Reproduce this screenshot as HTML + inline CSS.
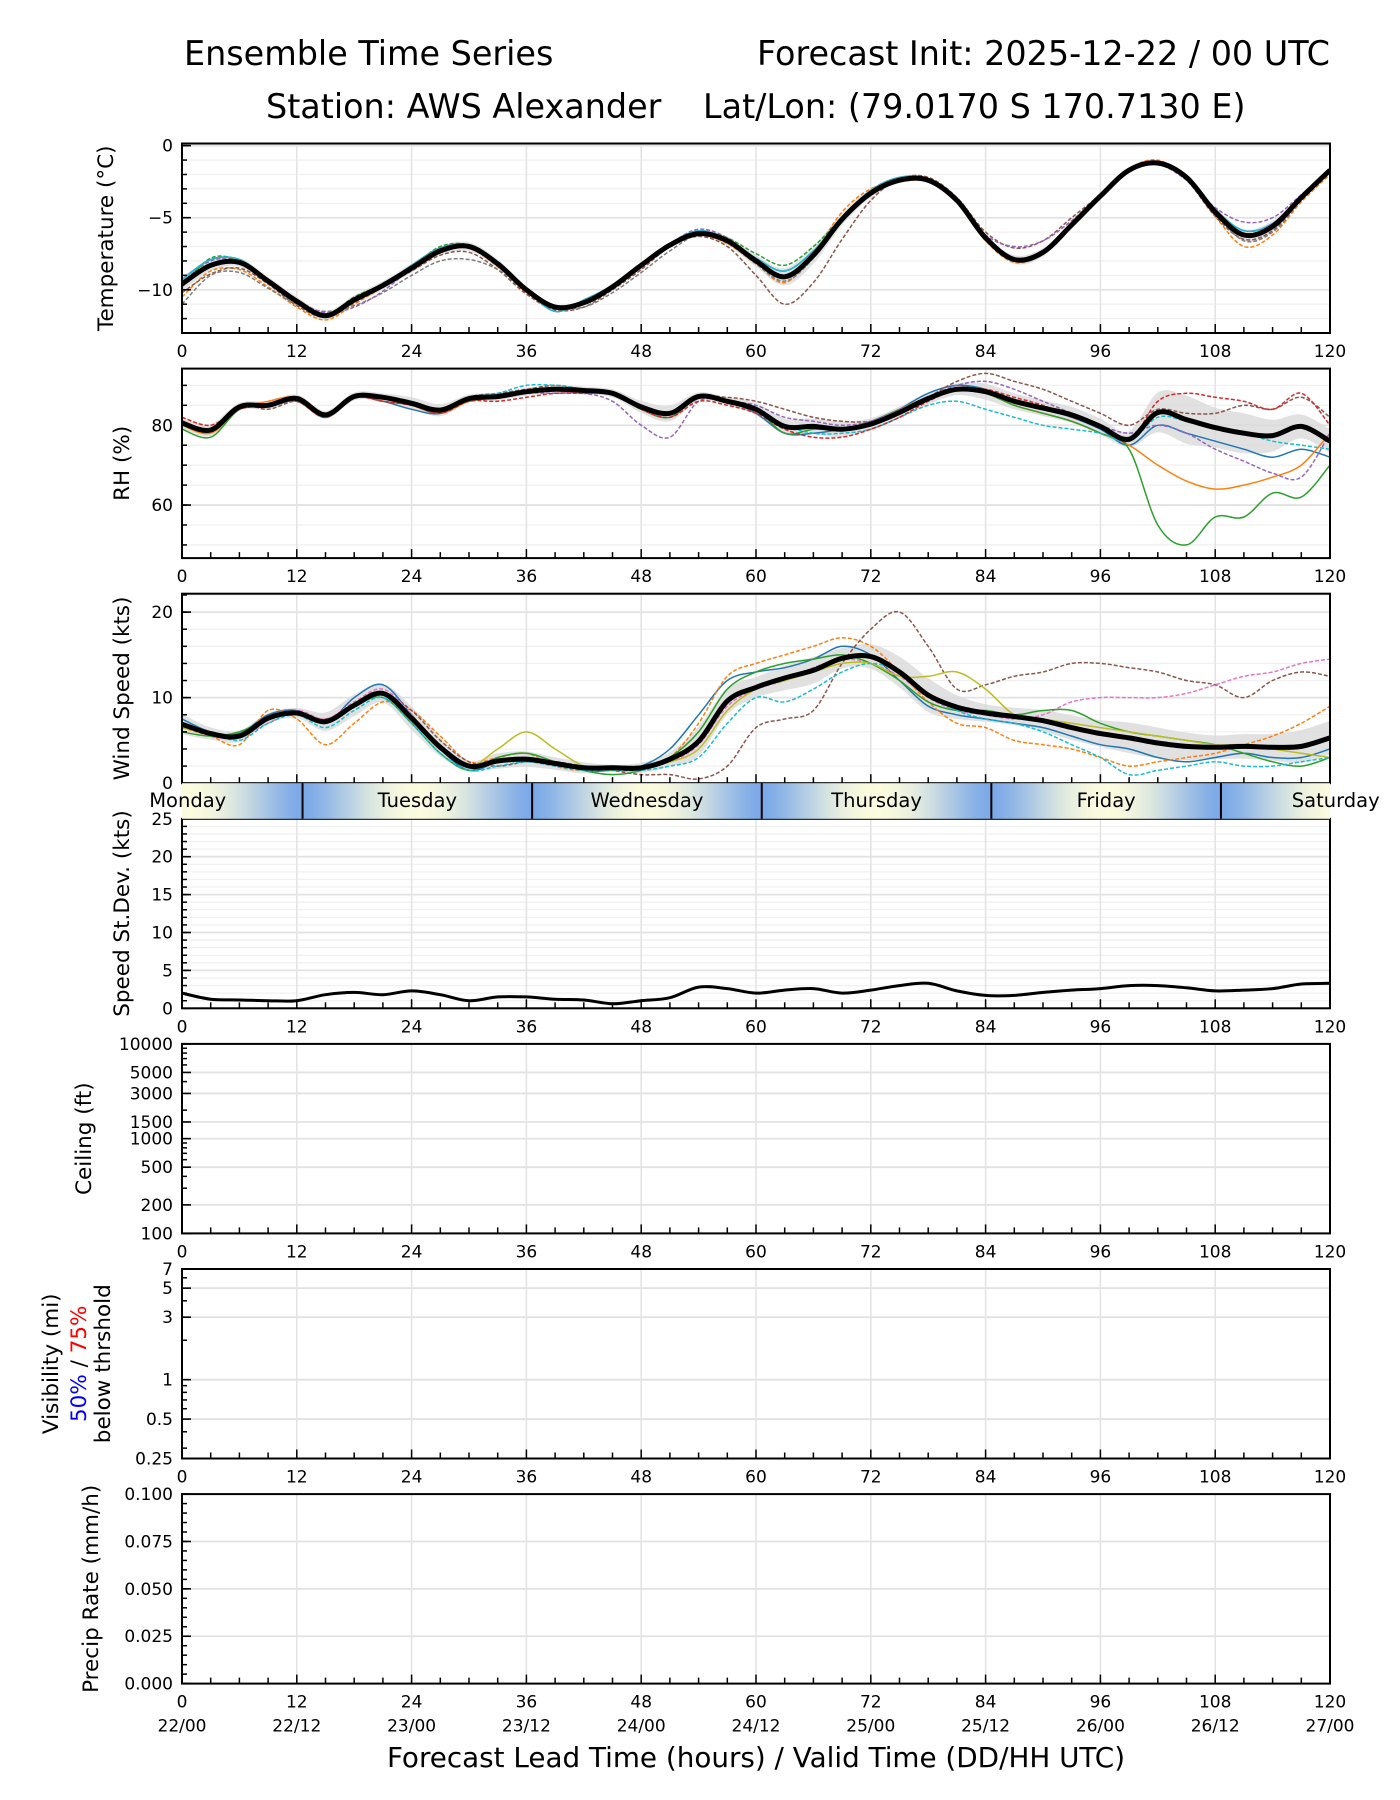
<!DOCTYPE html>
<html><head><meta charset="utf-8">
<style>
html,body{margin:0;padding:0;background:#fff;}
svg{display:block;font-family:"DejaVu Sans","Liberation Sans",sans-serif;}
</style></head>
<body>
<svg id="chart" width="1400" height="1800" viewBox="0 0 1400 1800" xmlns="http://www.w3.org/2000/svg">
<text x="184" y="65" font-size="33.4">Ensemble Time Series</text>
<text x="1330" y="65" font-size="33.4" text-anchor="end">Forecast Init: 2025-12-22 / 00 UTC</text>
<text x="266" y="118" font-size="33.4">Station: AWS Alexander</text>
<text x="703" y="118" font-size="33.4">Lat/Lon: (79.0170 S 170.7130 E)</text>
<g id="plots"></g>
<text x="756" y="1767" font-size="27.8" text-anchor="middle">Forecast Lead Time (hours) / Valid Time (DD/HH UTC)</text>
</svg>
<script>
// ---- data (3-hourly, lead hours 0..120) ----
const hours = [0,3,6,9,12,15,18,21,24,27,30,33,36,39,42,45,48,51,54,57,60,63,66,69,72,75,78,81,84,87,90,93,96,99,102,105,108,111,114,117,120];
const xTicks = [0,12,24,36,48,60,72,84,96,108,120];
const validLabels = ["22/00","22/12","23/00","23/12","24/00","24/12","25/00","25/12","26/00","26/12","27/00"];
const dayNames = ["Monday","Tuesday","Wednesday","Thursday","Friday","Saturday"];

const tempMean = [-9.6,-8.3,-8.1,-9.4,-10.8,-11.8,-10.7,-9.7,-8.5,-7.3,-7.0,-8.2,-10.0,-11.2,-10.9,-9.8,-8.3,-6.9,-6.1,-6.6,-8.0,-9.1,-7.6,-5.1,-3.3,-2.4,-2.4,-3.8,-6.4,-7.9,-7.4,-5.5,-3.5,-1.7,-1.2,-2.2,-4.6,-6.2,-5.6,-3.6,-1.7];
const tempM1 = [-9.3,-7.9,-7.9,-9.3,-10.9,-11.7,-10.6,-9.7,-8.3,-7.1,-6.9,-8.1,-10.0,-11.5,-10.7,-9.7,-8.2,-6.8,-5.9,-6.5,-7.8,-8.7,-7.3,-5.0,-3.1,-2.2,-2.3,-3.8,-6.3,-8.0,-7.5,-5.5,-3.4,-1.6,-1.1,-2.1,-4.4,-5.9,-5.4,-3.5,-1.6];
const tempM2 = [-10.5,-8.7,-8.6,-9.8,-11.2,-12.1,-11.0,-9.8,-8.6,-7.2,-7.1,-8.4,-10.2,-11.3,-11.0,-9.9,-8.4,-7.0,-6.2,-6.8,-8.2,-9.5,-7.5,-4.6,-3.0,-2.5,-2.5,-3.9,-6.6,-8.1,-7.5,-5.4,-3.5,-1.6,-1.0,-2.3,-4.9,-7.0,-6.2,-3.9,-2.0];
const tempM3 = [-10.2,-8.9,-8.5,-9.6,-11.1,-11.9,-10.9,-9.8,-8.7,-7.6,-7.4,-8.6,-10.3,-11.4,-11.2,-10.0,-8.6,-7.0,-6.3,-7.0,-9.0,-11.0,-9.5,-6.5,-3.8,-2.3,-2.2,-3.6,-6.0,-7.1,-6.6,-5.0,-3.4,-1.7,-1.3,-2.4,-4.9,-6.5,-5.9,-3.8,-1.8];
const tempM4 = [-11.0,-9.0,-8.8,-9.9,-11.0,-11.5,-11.1,-10.2,-9.0,-8.0,-7.9,-8.6,-10.1,-11.2,-11.2,-10.2,-8.8,-7.3,-6.2,-6.7,-8.2,-9.4,-7.8,-5.2,-3.1,-2.2,-2.3,-3.8,-6.4,-7.9,-7.4,-5.4,-3.5,-1.6,-1.2,-2.2,-4.6,-6.6,-6.0,-3.8,-1.8];
const tempM5 = [-9.5,-8.0,-8.0,-9.3,-10.7,-11.6,-11.2,-10.1,-8.5,-7.1,-6.9,-8.2,-10.0,-11.3,-10.8,-9.7,-8.2,-6.8,-5.8,-6.4,-8.0,-9.0,-7.6,-5.0,-3.2,-2.3,-2.4,-3.9,-6.2,-7.0,-6.6,-5.2,-3.4,-1.6,-1.3,-2.4,-4.3,-5.3,-5.0,-3.4,-1.7];
const tempM6 = [-9.8,-7.8,-8.0,-9.4,-10.8,-11.8,-10.5,-9.6,-8.4,-7.0,-6.9,-8.1,-10.0,-11.2,-10.9,-9.8,-8.3,-6.9,-6.0,-6.4,-7.5,-8.3,-7.0,-5.0,-3.2,-2.4,-2.4,-3.8,-6.4,-7.9,-7.4,-5.5,-3.4,-1.7,-1.1,-2.1,-4.5,-6.1,-5.5,-3.5,-1.6];
const tempSpread = [0.5,0.4,0.3,0.3,0.3,0.3,0.3,0.3,0.3,0.3,0.3,0.3,0.2,0.2,0.2,0.2,0.2,0.2,0.2,0.3,0.4,0.6,0.6,0.4,0.3,0.2,0.2,0.2,0.2,0.3,0.3,0.2,0.2,0.2,0.2,0.2,0.3,0.4,0.4,0.2,0.2];

const rhMean = [80.6,78.8,84.6,85,86.7,82.6,87.2,87,85.5,83.8,86.7,87.2,88.4,89,88.7,88,84.6,83,87.2,86,84,79.7,79.7,79,80.3,83.2,86.7,89,88.4,86,84.3,82.6,79.7,76.5,83.2,81.4,79.4,78,77.4,79.7,76];
const rhM1 = [81,79,85,85,86,82,87,86,84,83,87,87,88,89,89,88,84,82,87,86,83,78,78,79,80,84,88,90,89,86,84,82,79,75,80,78,76,74,72,74,72];
const rhM2 = [80,78,84,86,87,83,87,87,85,83,86,87,88,89,88,88,85,83,87,86,84,80,80,79,80,84,87,89,88,85,83,81,78,75,70,66,64,65,67,70,78];
const rhM3 = [79,77,84,85,87,82,87,87,85,84,86,87,88,89,89,88,84,82,87,86,84,78,79,79,81,84,87,89,88,85,83,81,78,74,55,50,57,57,63,62,70];
const rhM4 = [81,79,85,84,86,83,87,86,85,83,87,88,89,90,89,88,85,83,87,87,86,84,82,81,81,83,87,91,93,91,89,86,83,80,84,83,83,85,84,87,82];
const rhM5 = [80,79,84,85,86,83,87,87,85,84,87,87,88,88,88,86,80,77,86,86,85,82,81,80,81,84,87,90,91,89,86,83,80,78,80,78,74,71,68,67,78];
const rhM6 = [81,79,85,85,86,82,87,87,86,84,87,88,90,90,89,88,85,83,87,86,84,80,78,78,79,82,85,86,84,82,80,79,78,76,82,81,79,78,76,75,74];
const rhM7 = [82,80,84,85,86,82,87,86,85,83,86,86,87,88,88,88,84,82,86,85,83,79,77,77,79,82,86,89,89,87,85,82,80,76,86,88,87,86,84,88,80];
const rhSpread = [1.5,1.5,1,1,1,1,1,1,1.5,1.5,1,1,1,1,1,1,1.5,2,1,1,1.5,2,2,2,1.5,1.5,1.5,1.5,2,2,2,2,2,2,5,6,5,5,4,3,3];

const windMean = [6.9,5.8,5.5,7.6,8.2,7.2,9.1,10.5,7.6,4.2,2.0,2.6,2.8,2.3,1.8,1.8,1.8,2.8,4.9,9.6,11.2,12.3,13.2,14.6,14.8,13.0,10.3,8.9,8.2,7.8,7.3,6.5,5.8,5.3,4.7,4.3,4.2,4.3,4.2,4.3,5.3];
const windM1 = [7.5,6.0,5.8,8.0,8.5,7.0,10.0,11.5,8.0,4.0,1.5,2.5,3.0,2.5,1.5,1.5,2.0,4.0,8.0,12.0,13.0,13.5,14.5,16.0,15.0,12.0,9.0,8.0,7.5,7.0,6.5,5.5,4.5,4.0,3.0,2.5,3.0,3.5,3.0,3.0,4.0];
const windM2 = [6.5,5.5,4.5,8.5,7.5,4.5,7.0,9.5,8.5,5.5,2.5,3.0,3.5,2.0,1.5,2.0,2.0,3.0,7.0,12.5,14.0,15.0,16.0,17.0,16.0,13.0,9.5,7.0,6.5,5.0,4.5,4.0,3.0,2.0,2.5,3.0,3.5,4.5,5.5,7.0,9.0];
const windM3 = [7.0,6.0,5.5,7.5,8.0,7.5,9.0,10.5,8.5,5.0,2.5,2.0,2.5,2.5,2.0,1.5,1.0,1.0,0.5,2.0,6.5,7.5,8.5,14.0,18.0,20.0,16.0,11.0,11.5,12.5,13.0,14.0,14.0,13.5,13.0,12.0,11.5,10.0,12.0,13.0,12.5];
const windM4 = [7.0,5.5,5.5,7.0,8.5,7.5,9.5,11.0,8.0,4.0,2.0,2.5,3.0,2.5,2.0,2.0,2.0,2.5,4.5,9.0,11.0,12.0,13.5,14.5,14.0,12.5,10.0,8.5,8.0,7.5,8.0,9.5,10.0,10.0,10.0,10.5,11.5,12.5,13.0,14.0,14.5];
const windM5 = [6.0,5.5,6.0,7.5,8.0,7.0,9.0,10.0,7.0,3.5,1.5,3.0,3.5,2.5,1.5,1.0,1.5,3.0,6.0,11.0,13.0,14.0,14.5,15.0,14.0,12.0,9.5,8.5,8.5,8.0,8.5,8.5,7.0,6.0,5.5,5.0,4.5,3.5,2.5,2.0,3.0];
const windM6 = [6.5,5.8,5.5,7.5,8.0,7.0,9.0,10.5,7.5,4.5,2.0,4.0,6.0,4.0,2.0,1.5,2.0,2.5,4.0,8.5,11.0,12.0,13.0,14.0,14.0,12.5,12.5,13.0,11.0,8.0,7.5,7.0,6.5,6.0,5.5,5.0,4.5,4.5,4.0,3.5,3.0];
const windM7 = [7.0,6.0,5.0,7.0,8.0,6.5,8.5,10.0,7.0,3.5,1.5,2.0,2.5,2.0,1.5,1.5,1.5,2.0,3.0,7.0,10.0,9.5,11.0,13.0,14.0,13.0,10.5,8.5,7.5,7.0,6.0,4.5,3.0,1.0,1.5,2.0,2.5,2.0,2.0,2.5,3.0];

const windStd = [2.0,1.2,1.1,1.0,1.0,1.8,2.1,1.8,2.3,1.8,1.0,1.5,1.5,1.2,1.1,0.6,1.0,1.4,2.8,2.6,2.0,2.4,2.6,2.0,2.4,3.0,3.3,2.3,1.7,1.7,2.1,2.4,2.6,3.0,3.0,2.7,2.3,2.4,2.6,3.2,3.3];

const tempYTicks = [0,-5,-10];
const rhYTicks = [60,80];
const windYTicks = [0,10,20];
const stdYTicks = [0,5,10,15,20,25];
const ceilTicks = [100,200,500,1000,1500,3000,5000,10000];
const visTicks = [0.25,0.5,1,3,5,7];
const precipTicks = [0,0.025,0.05,0.075,0.1];
const precipLabels = ["0.000","0.025","0.050","0.075","0.100"];

// ---- layout ----
const NS = "http://www.w3.org/2000/svg";
const L = 182, R = 1330, PH = 189.5, TOP0 = 143.5, STEP = 225.1;
const plots = document.getElementById('plots');
function el(tag, attrs, parent){
  const e = document.createElementNS(NS, tag);
  for (const k in attrs) e.setAttribute(k, attrs[k]);
  (parent||plots).appendChild(e);
  return e;
}
function xs(h){ return L + h/120*(R-L); }
function linY(lo,hi,top){ return v => top + PH - (v-lo)/(hi-lo)*PH; }
function logY(lo,hi,top){ return v => top + PH - (Math.log10(v)-Math.log10(lo))/(Math.log10(hi)-Math.log10(lo))*PH; }
function smoothPath(xsArr, ysArr){
  let d = `M${xsArr[0].toFixed(1)},${ysArr[0].toFixed(1)}`;
  for (let i=0;i<xsArr.length-1;i++){
    const x0=xsArr[Math.max(i-1,0)], y0=ysArr[Math.max(i-1,0)];
    const x1=xsArr[i], y1=ysArr[i], x2=xsArr[i+1], y2=ysArr[i+1];
    const x3=xsArr[Math.min(i+2,xsArr.length-1)], y3=ysArr[Math.min(i+2,ysArr.length-1)];
    const c1x=x1+(x2-x0)/6, c1y=y1+(y2-y0)/6, c2x=x2-(x3-x1)/6, c2y=y2-(y3-y1)/6;
    d += ` C${c1x.toFixed(1)},${c1y.toFixed(1)} ${c2x.toFixed(1)},${c2y.toFixed(1)} ${x2.toFixed(1)},${y2.toFixed(1)}`;
  }
  return d;
}
function seriesLine(vals, y, g, color, width, dash, name){
  const p = el('path', {d: smoothPath(hours.map(xs), vals.map(y)), fill:'none', stroke:color, 'stroke-width':width}, g);
  if (dash) p.setAttribute('stroke-dasharray', dash);
  
  
  return p;
}
function band(mean, spread, k, y, g, name){
  const up = mean.map((m,i)=>m+spread[i]*k), dn = mean.map((m,i)=>m-spread[i]*k);
  const X = hours.map(xs);
  let d = smoothPath(X, up.map(y));
  const rx = X.slice().reverse(), ry = dn.map(y).reverse();
  d += ' L' + smoothPath(rx, ry).slice(1) + ' Z';
  const p = el('path', {d, fill:'#d9d9d9', 'fill-opacity':0.8, stroke:'none'}, g);
  
  
}

function panel(idx, name, opts){
  const top = TOP0 + idx*STEP;
  const g = el('g', {});
  
  
  const clipId = 'clip'+idx;
  const cp = el('clipPath', {id: clipId}, g);
  el('rect', {x:L, y:top, width:R-L, height:PH}, cp);
  (opts.minor||[]).forEach(v=>{
    const yy = opts.y(v); if (yy<top-0.5||yy>top+PH+0.5) return;
    el('line',{x1:L,x2:R,y1:yy,y2:yy,stroke:'#f1f1f1','stroke-width':1.3}, g);
  });
  opts.ticks.forEach(v=>{
    const yy = opts.y(v);
    el('line',{x1:L,x2:R,y1:yy,y2:yy,stroke:'#e2e2e2','stroke-width':1.8}, g);
  });
  xTicks.forEach(h=>{
    el('line',{x1:xs(h),x2:xs(h),y1:top,y2:top+PH,stroke:'#e4e4e4','stroke-width':1.6}, g);
  });
  const dg = el('g', {'clip-path':`url(#${clipId})`}, g);
  
  
  if (opts.draw) opts.draw(dg, opts.y);
  const fr = el('rect',{x:L,y:top,width:R-L,height:PH,fill:'none',stroke:'#000','stroke-width':2}, g);
  
  
  for (let h=0; h<=120; h+=3){
    const major = h%12===0;
    el('line',{x1:xs(h),x2:xs(h),y1:top+PH,y2:top+PH-(major?9:6),stroke:'#000','stroke-width':1.5}, g);
  }
  if (!opts.noXLabels) xTicks.forEach((h,i)=>{
    const t = el('text',{x:xs(h), y:top+PH+24, 'font-size':17, 'text-anchor':'middle'}, g);
    t.textContent = h;
    
    
    if (opts.valid){
      const t2 = el('text',{x:xs(h), y:top+PH+48, 'font-size':17, 'text-anchor':'middle'}, g);
      t2.textContent = validLabels[i];
      
      
    }
  });
  (opts.minorTicks||opts.minor||[]).forEach(v=>{
    const yy = opts.y(v); if (yy<top-0.5||yy>top+PH+0.5) return;
    el('line',{x1:L,x2:L+5,y1:yy,y2:yy,stroke:'#000','stroke-width':1.5}, g);
  });
  opts.ticks.forEach((v,i)=>{
    const yy = opts.y(v);
    el('line',{x1:L,x2:L+9,y1:yy,y2:yy,stroke:'#000','stroke-width':1.6}, g);
    const t = el('text',{x:L-9, y:yy+6, 'font-size':17, 'text-anchor':'end'}, g);
    t.textContent = opts.labels ? opts.labels[i] : (v<0 ? '\u2212'+(-v) : v);
    
    
  });
  const cy = top + PH/2;
  (opts.title||[]).forEach(tl=>{
    const t = el('text',{x:0,y:0,'font-size':21.5,'text-anchor':'middle',transform:`translate(${tl.x},${cy}) rotate(-90)`}, g);
    if (tl.spans){
      tl.spans.forEach(s=>{ const ts = el('tspan',{fill:s.c}, t); ts.textContent = s.t; });
    } else t.textContent = tl.t;
    
    
  });
  return top;
}
function range(a,b,s){ const r=[]; for(let v=a; v<=b+1e-9; v+=s) r.push(+v.toFixed(6)); return r; }

const colors = ['#1f77b4','#ff7f0e','#8c564b','#7f7f7f','#9467bd','#2ca02c','#bcbd22','#17becf','#e377c2','#d62728'];

panel(0,'temperature-panel',{
  y: linY(-13,0.15,TOP0), ticks: tempYTicks, minor: range(-13,0,1),
  title:[{x:113,t:'Temperature (°C)'}],
  draw:(g,y)=>{
    band(tempMean,tempSpread,1,y,g,'temp-spread-band');
    seriesLine(tempM1,y,g,colors[0],1.5,null,'temp-member');
    seriesLine(tempM2,y,g,colors[1],1.5,'4 2','temp-member');
    seriesLine(tempM3,y,g,colors[2],1.5,'4 2','temp-member');
    seriesLine(tempM4,y,g,colors[3],1.5,'4 2','temp-member');
    seriesLine(tempM5,y,g,colors[4],1.5,'4 2','temp-member');
    seriesLine(tempM6,y,g,colors[5],1.5,'4 2','temp-member');
    seriesLine(tempM1,y,g,colors[7],1.2,null,'temp-member');
    seriesLine(tempMean,y,g,'#000',5,null,'temp-ensemble-mean');
  }
});
panel(1,'rh-panel',{
  y: linY(46.7,94.2,TOP0+STEP), ticks: rhYTicks, minor: range(50,90,5),
  title:[{x:129,t:'RH (%)'}],
  draw:(g,y)=>{
    band(rhMean,rhSpread,1,y,g,'rh-spread-band');
    seriesLine(rhM1,y,g,colors[0],1.5,null,'rh-member');
    seriesLine(rhM2,y,g,colors[1],1.5,null,'rh-member');
    seriesLine(rhM3,y,g,colors[5],1.5,null,'rh-member');
    seriesLine(rhM4,y,g,colors[2],1.5,'4 2','rh-member');
    seriesLine(rhM5,y,g,colors[4],1.5,'4 2','rh-member');
    seriesLine(rhM6,y,g,colors[7],1.5,'4 2','rh-member');
    seriesLine(rhM7,y,g,colors[9],1.5,'4 2','rh-member');
    seriesLine(rhMean,y,g,'#000',5,null,'rh-ensemble-mean');
  }
});
panel(2,'wind-panel',{
  y: linY(0,22.15,TOP0+2*STEP), ticks: windYTicks, minor: range(0,22,2),
  title:[{x:129,t:'Wind Speed (kts)'}], noXLabels:true,
  draw:(g,y)=>{
    band(windMean,windStd,0.6,y,g,'wind-spread-band');
    seriesLine(windM1,y,g,colors[0],1.5,null,'wind-member');
    seriesLine(windM2,y,g,colors[1],1.5,'4 2','wind-member');
    seriesLine(windM3,y,g,colors[2],1.5,'4 2','wind-member');
    seriesLine(windM4,y,g,colors[8],1.5,'4 2','wind-member');
    seriesLine(windM5,y,g,colors[5],1.5,null,'wind-member');
    seriesLine(windM6,y,g,colors[6],1.5,null,'wind-member');
    seriesLine(windM7,y,g,colors[7],1.5,'4 2','wind-member');
    seriesLine(windMean,y,g,'#000',5,null,'wind-ensemble-mean');
  }
});
panel(3,'speed-stdev-panel',{
  y: linY(0,25,TOP0+3*STEP), ticks: stdYTicks, minor: range(0,25,1),
  title:[{x:129,t:'Speed St.Dev. (kts)'}],
  draw:(g,y)=>{ seriesLine(windStd,y,g,'#000',3,null,'wind-stdev-line'); }
});
panel(4,'ceiling-panel',{
  y: logY(100,10000,TOP0+4*STEP), ticks: ceilTicks, minor: [],
  minorTicks:[300,400,600,700,800,900,2000,4000,6000,7000,8000,9000],
  title:[{x:91,t:'Ceiling (ft)'}]
});
panel(5,'visibility-panel',{
  y: logY(0.25,7,TOP0+5*STEP), ticks: visTicks, minor: [],
  minorTicks:[0.3,0.4,0.6,0.7,0.8,0.9,2,4,6],
  title:[{x:58,t:'Visibility (mi)'},{x:86,spans:[{t:'50%',c:'#0000ff'},{t:' / ',c:'#000'},{t:'75%',c:'#ff0000'}]},{x:110,t:'below thrshold'}]
});
panel(6,'precip-panel',{
  y: linY(0,0.1,TOP0+6*STEP), ticks: precipTicks, labels: precipLabels, minor: [],
  minorTicks: range(0,0.1,0.005),
  title:[{x:98,t:'Precip Rate (mm/h)'}], valid:true
});

// ---- day bar ----
(function(){
  const y0 = TOP0+2*STEP+PH, y1 = TOP0+3*STEP;
  const defs = el('defs',{});
  const grad = el('linearGradient',{id:'daygrad',x1:L,x2:R,y1:0,y2:0,gradientUnits:'userSpaceOnUse'}, defs);
  const blue=[122,168,232], yel=[251,251,222];
  for (let h=0; h<=120; h+=1){
    const loc = ((h-12.6)%24+24)%24;
    const t = (1-Math.cos(loc/24*2*Math.PI))/2;
    const c = blue.map((b,i)=>Math.round(b+(yel[i]-b)*Math.pow(t,0.7)));
    el('stop',{offset:(h/120).toFixed(4),'stop-color':`rgb(${c.join(',')})`}, grad);
  }
  const r = el('rect',{x:L,y:y0,width:R-L,height:y1-y0,fill:'url(#daygrad)'});
  
  
  for (let k=0;k<5;k++){
    const bx = xs(12.6+24*k);
    const ln = el('line',{x1:bx,x2:bx,y1:y0,y2:y1,stroke:'#000','stroke-width':2});
    
    
  }
  dayNames.forEach((n,k)=>{
    const t = el('text',{x:xs(0.6+24*k), y:(y0+y1)/2+6, 'font-size':19.5, 'text-anchor':'middle'});
    t.textContent = n;
    
    
  });
})();
</script>
</body></html>
